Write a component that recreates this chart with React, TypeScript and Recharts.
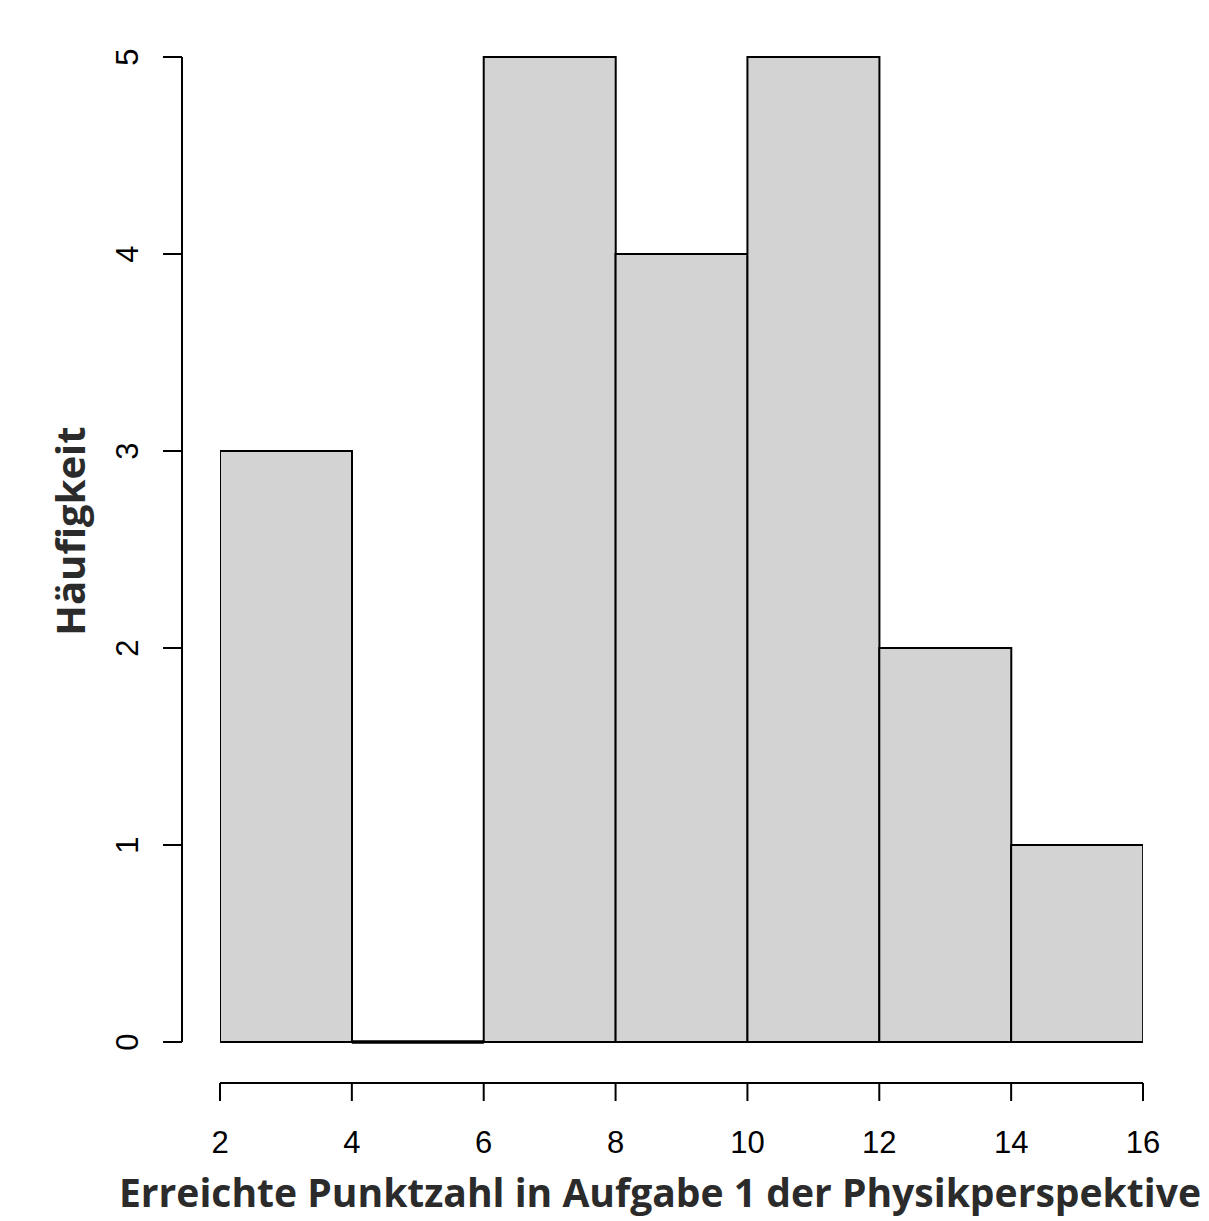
import React from 'react';
import { BarChart, Bar, XAxis, YAxis, Label } from 'recharts';

const binStarts = [2, 4, 6, 8, 10, 12, 14];
const binEnds = [4, 6, 8, 10, 12, 14, 16];
const counts = [3, 0, 5, 4, 5, 2, 1];
const xTicks = [2, 4, 6, 8, 10, 12, 14, 16];
const yTicks = [0, 1, 2, 3, 4, 5];
const xTitle = 'Erreichte Punktzahl in Aufgabe 1 der Physikperspektive';
const yTitle = 'Häufigkeit';

const data = binStarts.map((s, i) => ({ mid: (s + binEnds[i]) / 2, count: counts[i] }));

const tickFont = '"Liberation Sans", Arial, sans-serif';
const titleFont = '"Open Sans", "Noto Sans", sans-serif';

const XTick = (props: any) => {
  const { x, y, payload } = props;
  return (
    <text x={x} y={y + 91} textAnchor="middle" fontFamily={tickFont} fontSize={31} fill="#000">
      {payload.value}
    </text>
  );
};

const YTick = (props: any) => {
  const { x, y, payload } = props;
  return (
    <text
      transform={`translate(${x - 61},${y}) rotate(-90)`}
      textAnchor="middle"
      fontFamily={tickFont}
      fontSize={31}
      fill="#000"
    >
      {payload.value}
    </text>
  );
};

const HistShape = (p: any) => {
  const { x, y, width, height, fill, stroke } = p;
  const zero = Math.abs(height) < 0.5;
  return (
    <path
      d={`M${x},${y}h${width}v${height}h${-width}Z`}
      fill={fill}
      stroke={stroke}
      strokeWidth={zero ? 3.5 : 2}
    />
  );
};

export default function App() {
  return (
    <div style={{ width: 1201, height: 1213 }}>
      <style>{`
        .recharts-xAxis { transform: translate(0px, 41px); }
        .recharts-yAxis { transform: translate(-38px, 0px); }
      `}</style>
      <BarChart
        width={1201}
        height={1213}
        data={data}
        margin={{ top: 49, right: 66, bottom: 79, left: 112 }}
        barCategoryGap={0}
        barGap={0}
      >
        <XAxis
          dataKey="mid"
          type="number"
          domain={[2, 16]}
          ticks={xTicks}
          interval={0}
          height={100}
          tickSize={18}
          tickMargin={2}
          axisLine={{ stroke: '#000', strokeWidth: 2 }}
          tickLine={{ stroke: '#000', strokeWidth: 2 }}
          tick={<XTick />}
          allowDataOverflow
        >
          <Label
            content={() => (
              <text
                x={652}
                y={1158}
                textAnchor="middle"
                fontFamily={titleFont}
                fontWeight="bold"
                fontSize={39}
                textLength={1082}
                lengthAdjust="spacingAndGlyphs"
                fill="#2b2b2b"
              >
                {xTitle}
              </text>
            )}
          />
        </XAxis>
        <YAxis
          type="number"
          domain={[0, 5]}
          ticks={yTicks}
          interval={0}
          width={100}
          tickSize={19}
          tickMargin={2}
          axisLine={{ stroke: '#000', strokeWidth: 2 }}
          tickLine={{ stroke: '#000', strokeWidth: 2 }}
          tick={<YTick />}
        >
          <Label
            content={() => (
              <text
                transform={`translate(115,523) rotate(-90)`}
                textAnchor="middle"
                fontFamily={titleFont}
                fontWeight="bold"
                fontSize={40}
                fill="#2b2b2b"
              >
                {yTitle}
              </text>
            )}
          />
        </YAxis>
        <Bar
          dataKey="count"
          fill="#d3d3d3"
          stroke="#000"
          isAnimationActive={false}
          shape={HistShape}
        />
      </BarChart>
    </div>
  );
}
